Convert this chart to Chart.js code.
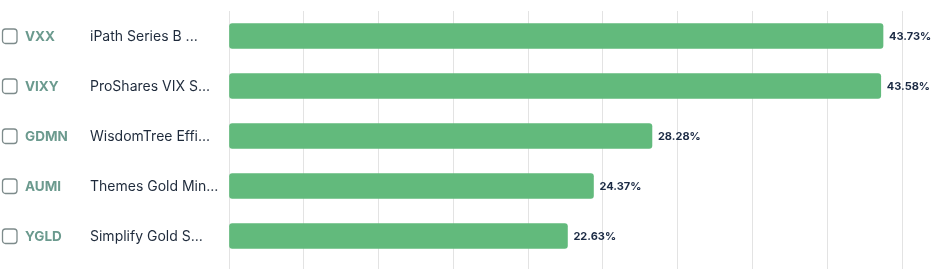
<!DOCTYPE html>
<html>
<head>
<meta charset="utf-8">
<script src="https://cdn.jsdelivr.net/npm/chart.js@4/dist/chart.umd.min.js"></script>
<style>
  html, body { margin: 0; padding: 0; background: #fff; }
  #wrap { width: 933px; height: 269px; position: relative; }
</style>
</head>
<body>
<div id="wrap"><canvas id="chart"></canvas></div>
<script>
// data
const tickers = ["VXX", "VIXY", "GDMN", "AUMI", "YGLD"];
const names = ["iPath Series B ...", "ProShares VIX S...", "WisdomTree Effi...", "Themes Gold Min...", "Simplify Gold S..."];
const values = [43.73, 43.58, 28.28, 24.37, 22.63];

const FONT = "Inter, 'Open Sans', sans-serif";

// left side: checkbox + ticker + fund name, placed on the y scale
const rowLabels = {
  id: "rowLabels",
  afterDraw(chart) {
    const ctx = chart.ctx;
    const y = chart.scales.y;
    ctx.save();
    tickers.forEach((t, i) => {
      const cy = y.getPixelForValue(i);
      // checkbox
      ctx.strokeStyle = "#7d8b8b";
      ctx.lineWidth = 1.3;
      ctx.beginPath();
      ctx.roundRect(2.5, cy - 7, 14.5, 14.5, 3);
      ctx.stroke();

      ctx.textBaseline = "middle";
      ctx.textAlign = "left";
      ctx.fillStyle = "#6b9a8e";
      ctx.font = "bold 13.5px " + FONT;
      ctx.fillText(t, 25, cy + 1);

      ctx.fillStyle = "#1e2a3b";
      ctx.font = "14px " + FONT;
      ctx.fillText(names[i], 90, cy + 1);
    });
    ctx.restore();
  }
};

// percentage at the end of each bar
const valueLabels = {
  id: "valueLabels",
  afterDatasetsDraw(chart) {
    const ctx = chart.ctx;
    const meta = chart.getDatasetMeta(0);
    ctx.save();
    ctx.fillStyle = "#1b2a44";
    ctx.font = "bold 11px " + FONT;
    ctx.textBaseline = "middle";
    ctx.textAlign = "left";
    meta.data.forEach((bar, i) => {
      ctx.fillText(values[i].toFixed(2) + "%", bar.x + 6, bar.y + 1);
    });
    ctx.restore();
  }
};

new Chart(document.getElementById("chart"), {
  type: "bar",
  data: {
    labels: tickers,
    datasets: [{
      data: values,
      backgroundColor: "#62ba7c",
      borderRadius: 3,
      borderSkipped: false,
      barThickness: 25
    }]
  },
  options: {
    indexAxis: "y",
    responsive: true,
    maintainAspectRatio: false,
    animation: false,
    layout: { padding: { left: 229, right: 31, top: 11, bottom: 0 } },
    plugins: {
      legend: { display: false },
      tooltip: { enabled: false }
    },
    scales: {
      x: {
        min: 0,
        max: 45,
        ticks: { display: false, stepSize: 5 },
        grid: { color: "#e3e3e3", tickLength: 8, drawTicks: true },
        border: { display: false }
      },
      y: {
        display: false
      }
    }
  },
  plugins: [rowLabels, valueLabels]
});
</script>
</body>
</html>
